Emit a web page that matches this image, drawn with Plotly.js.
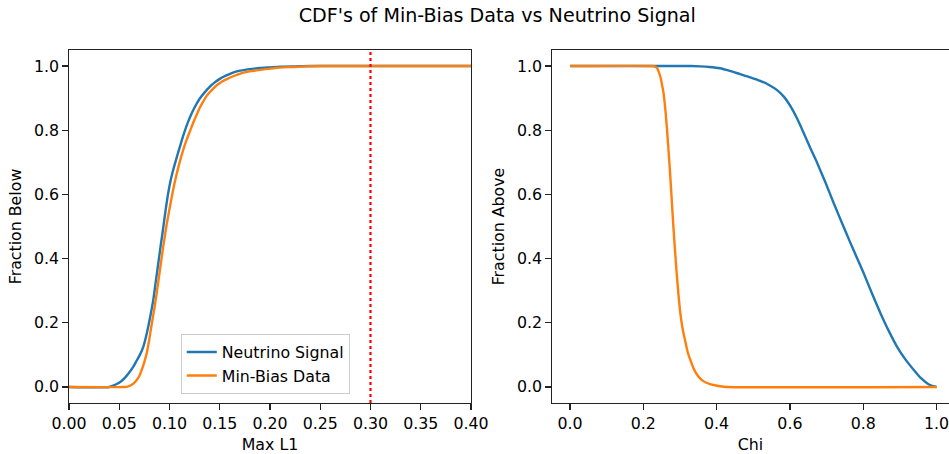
<!DOCTYPE html>
<html>
<head>
<meta charset="utf-8">
<script src="https://cdn.plot.ly/plotly-3.0.1.min.js"></script>
<style>html,body{margin:0;padding:0;background:#fff;}#chart{width:949px;height:454px;}</style>
</head>
<body>
<div id="chart"></div>
<script>
// Left panel: CDF of Max L1 (fraction below)
const l1SignalX = [0, 0.040, 0.044, 0.048, 0.052, 0.056, 0.0607, 0.064, 0.067, 0.0705, 0.074, 0.0765, 0.079, 0.0815, 0.0839, 0.0862, 0.0886, 0.091, 0.0935, 0.096, 0.0985, 0.101, 0.104, 0.107, 0.110, 0.1144, 0.118, 0.122, 0.126, 0.130, 0.135, 0.140, 0.145, 0.150, 0.156, 0.162, 0.168, 0.175, 0.182, 0.19, 0.20, 0.21, 0.225, 0.24, 0.40];
const l1SignalY = [0, 0, 0.004, 0.01, 0.018, 0.03, 0.048, 0.063, 0.08, 0.1, 0.126, 0.155, 0.19, 0.23, 0.272, 0.325, 0.38, 0.435, 0.49, 0.548, 0.6, 0.642, 0.68, 0.713, 0.745, 0.79, 0.822, 0.852, 0.877, 0.898, 0.918, 0.935, 0.949, 0.96, 0.97, 0.978, 0.984, 0.988, 0.991, 0.994, 0.996, 0.998, 0.999, 1.0, 1.0];
const l1BiasX = [0, 0.056, 0.058, 0.060, 0.062, 0.0645, 0.0674, 0.070, 0.072, 0.0747, 0.0773, 0.0797, 0.082, 0.0847, 0.0873, 0.0905, 0.0938, 0.097, 0.1005, 0.105, 0.110, 0.1135, 0.117, 0.1205, 0.1237, 0.127, 0.130, 0.1335, 0.137, 0.142, 0.147, 0.152, 0.157, 0.164, 0.172, 0.181, 0.190, 0.198, 0.205, 0.213, 0.223, 0.235, 0.25, 0.40];
const l1BiasY = [0, 0, 0.001, 0.003, 0.006, 0.012, 0.022, 0.034, 0.05, 0.075, 0.105, 0.145, 0.19, 0.24, 0.293, 0.365, 0.438, 0.503, 0.563, 0.635, 0.699, 0.737, 0.77, 0.798, 0.824, 0.848, 0.869, 0.889, 0.907, 0.925, 0.94, 0.951, 0.959, 0.969, 0.978, 0.984, 0.988, 0.991, 0.994, 0.996, 0.997, 0.999, 1.0, 1.0];
const l1Cut = [0.3];

// Right panel: Chi (fraction above)
const chiSignalX = [0, 0.30, 0.33, 0.355, 0.38, 0.409, 0.436, 0.464, 0.492, 0.519, 0.543, 0.565, 0.584, 0.601, 0.619, 0.637, 0.655, 0.674, 0.697, 0.719, 0.742, 0.765, 0.783, 0.801, 0.824, 0.847, 0.870, 0.892, 0.915, 0.938, 0.957, 0.975, 0.988, 1.0];
const chiSignalY = [1, 1, 1.0, 0.999, 0.997, 0.993, 0.985, 0.975, 0.965, 0.954, 0.941, 0.925, 0.904, 0.876, 0.838, 0.793, 0.746, 0.699, 0.637, 0.574, 0.511, 0.449, 0.402, 0.355, 0.291, 0.230, 0.174, 0.126, 0.086, 0.053, 0.028, 0.011, 0.003, 0];
const chiBiasX = [0, 0.225, 0.230, 0.234, 0.238, 0.241, 0.244, 0.248, 0.251, 0.255, 0.2595, 0.264, 0.2685, 0.273, 0.2775, 0.282, 0.2865, 0.291, 0.2955, 0.300, 0.3035, 0.307, 0.3105, 0.314, 0.318, 0.322, 0.327, 0.332, 0.337, 0.343, 0.349, 0.355, 0.363, 0.372, 0.382, 0.392, 0.41, 0.43, 1.0];
const chiBiasY = [1, 1, 0.999, 0.997, 0.993, 0.985, 0.976, 0.96, 0.942, 0.918, 0.872, 0.813, 0.742, 0.668, 0.584, 0.501, 0.426, 0.355, 0.294, 0.240, 0.208, 0.183, 0.163, 0.145, 0.124, 0.105, 0.088, 0.073, 0.058, 0.045, 0.035, 0.027, 0.019, 0.013, 0.009, 0.006, 0.002, 0, 0];

const seriesNames = ["Neutrino Signal", "Min-Bias Data"];
const yTicks = [0.0, 0.2, 0.4, 0.6, 0.8, 1.0];
const l1Ticks = [0.00, 0.05, 0.10, 0.15, 0.20, 0.25, 0.30, 0.35, 0.40];
const chiTicks = [0.0, 0.2, 0.4, 0.6, 0.8, 1.0];

const BLUE = "#1f77b4", ORANGE = "#ff7f0e";
const FONT = "DejaVu Sans";
const FS = 15.8;

const traces = [
  {x: l1SignalX, y: l1SignalY, name: seriesNames[0], mode: "lines", line: {color: BLUE, width: 2.4, shape: "spline", smoothing: 0.6}, xaxis: "x", yaxis: "y"},
  {x: l1BiasX, y: l1BiasY, name: seriesNames[1], mode: "lines", line: {color: ORANGE, width: 2.4, shape: "spline", smoothing: 0.6}, xaxis: "x", yaxis: "y"},
  {x: chiSignalX, y: chiSignalY, name: seriesNames[0], mode: "lines", line: {color: BLUE, width: 2.4, shape: "spline", smoothing: 0.6}, xaxis: "x2", yaxis: "y2", showlegend: false},
  {x: chiBiasX, y: chiBiasY, name: seriesNames[1], mode: "lines", line: {color: ORANGE, width: 2.4, shape: "spline", smoothing: 0.6}, xaxis: "x2", yaxis: "y2", showlegend: false}
];

const axisCommon = {
  showgrid: false, zeroline: false, showline: true, linecolor: "#222", linewidth: 1.2,
  ticks: "outside", ticklen: 5.5, tickwidth: 1.2, tickcolor: "#222",
  tickfont: {family: FONT, size: FS, color: "#000"}, automargin: false,
  ticklabeloverflow: "allow"
};

const layout = {
  width: 949, height: 454,
  margin: {l: 69, r: 0, t: 50, b: 51},
  paper_bgcolor: "#fff", plot_bgcolor: "#fff",
  font: {family: FONT, color: "#000"},
  title: {text: "CDF's of Min-Bias Data vs Neutrino Signal", font: {family: FONT, size: 19.1, color: "#000"}, xref: "container", x: 0.524, xanchor: "center", yref: "container", y: 0.967, yanchor: "middle"},
  xaxis: Object.assign({}, axisCommon, {domain: [0, 0.4568], range: [0, 0.4], tickvals: l1Ticks, tickformat: ".2f", mirror: true,
    title: {text: "Max L1", font: {family: FONT, size: FS, color: "#000"}, standoff: 8}}),
  yaxis: Object.assign({}, axisCommon, {domain: [0, 1], range: [-0.05, 1.05], tickvals: yTicks, tickformat: ".1f", mirror: true,
    title: {text: "Fraction Below", font: {family: FONT, size: FS, color: "#000"}, standoff: 8}}),
  xaxis2: Object.assign({}, axisCommon, {domain: [0.5489, 1], range: [-0.049, 1.034], tickvals: chiTicks, tickformat: ".1f", mirror: true, anchor: "y2",
    title: {text: "Chi", font: {family: FONT, size: FS, color: "#000"}, standoff: 8}}),
  yaxis2: Object.assign({}, axisCommon, {domain: [0, 1], range: [-0.05, 1.05], tickvals: yTicks, tickformat: ".1f", anchor: "x2",
    title: {text: "Fraction Above", font: {family: FONT, size: FS, color: "#000"}, standoff: 8}}),
  shapes: l1Cut.map(v => ({type: "line", xref: "x", yref: "y domain", x0: v, x1: v, y0: 0, y1: 1, line: {color: "#ff0000", width: 2.2, dash: "dot"}})),
  legend: {x: 0.127, y: 0.025, xanchor: "left", yanchor: "bottom", bgcolor: "rgba(255,255,255,0.8)", bordercolor: "#cccccc", borderwidth: 1,
    font: {family: FONT, size: FS, color: "#000"}, tracegroupgap: 0},
  showlegend: true
};

Plotly.newPlot("chart", traces, layout, {displayModeBar: false, staticPlot: true});
</script>
</body>
</html>
